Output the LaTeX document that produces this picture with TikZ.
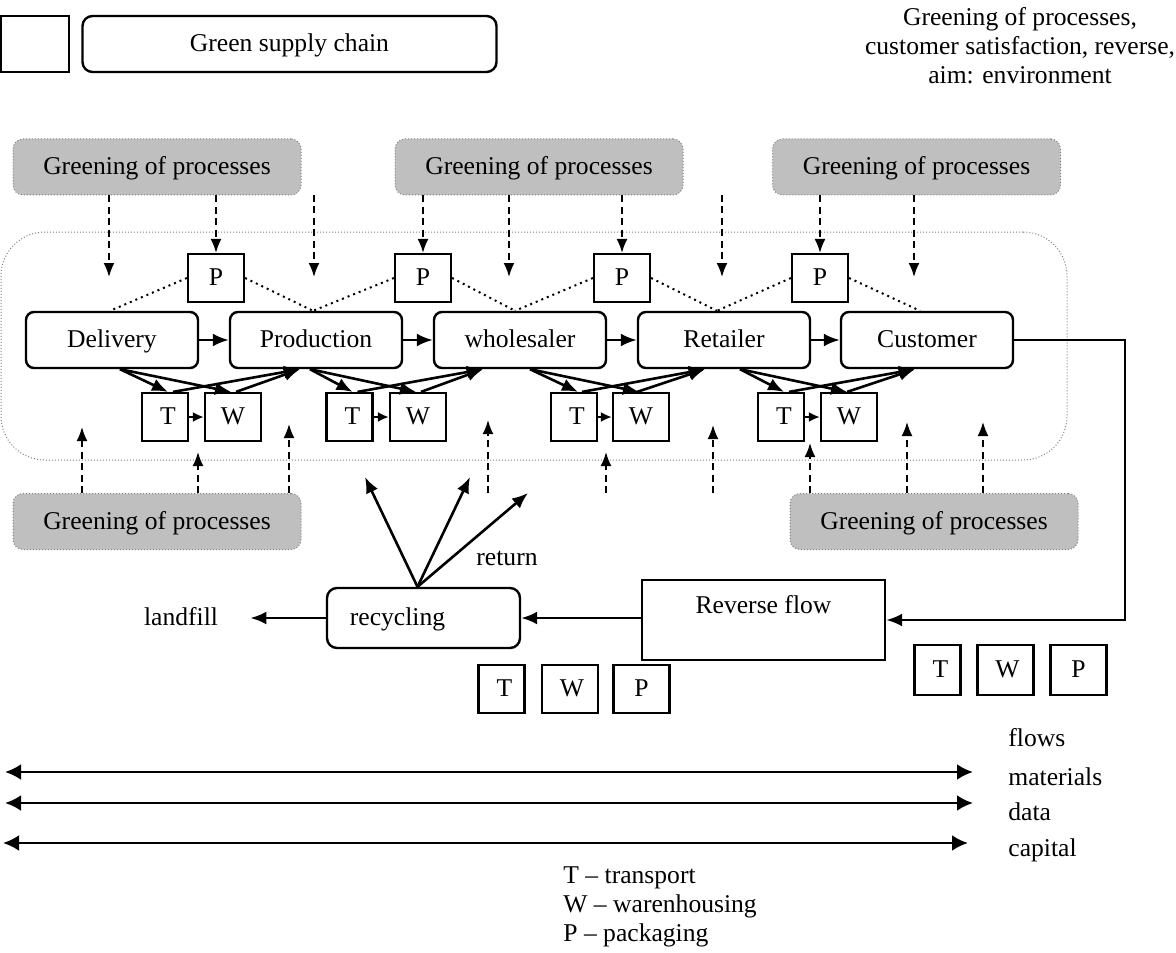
\documentclass[tikz,border=0pt]{standalone}
\usepackage{fontspec}
\setmainfont{Liberation Serif}
\usetikzlibrary{arrows.meta}
\begin{document}
\begin{tikzpicture}[x=0.5pt,y=-0.5pt,
  every node/.style={font=\fontsize{12.8}{14.5}\selectfont, inner sep=0pt},
  txt/.style={text height=8.8pt, text depth=1.2pt},
  box/.style={draw, line width=1.2pt, minimum height=28pt, txt},
  rbox/.style={box, rounded corners=4pt, minimum width=86pt},
  gbox/.style={draw=gray, densely dotted, line width=0.5pt, fill=gray!50, rounded corners=5pt, minimum width=144pt, minimum height=28pt, txt},
  sbox/.style={draw, line width=1.1pt, minimum height=24pt, txt},
  tbox/.style={sbox, minimum width=23pt},
  wbox/.style={sbox, minimum width=28pt},
  arr/.style={line width=1.3pt, -{Latex[length=8pt,width=6.5pt]}},
  sarr/.style={line width=1.1pt, -{Latex[length=5.5pt,width=5pt]}},
  darr/.style={line width=0.9pt, dash pattern=on 3.5pt off 2.2pt, -{Latex[length=7pt,width=5.5pt]}},
  barr/.style={line width=1.4pt, {Latex[length=8pt,width=8pt]}-{Latex[length=8pt,width=8pt]}},
  pdot/.style={line width=1pt, dotted},
  frame/.style={draw=gray, densely dotted, line width=0.5pt, rounded corners=22pt}
]
\useasboundingbox (0,0) rectangle (1176,952);

% header
\node[box, minimum width=34pt, minimum height=28pt] (sq) at (35,44) {};
\node[box, rounded corners=5pt, minimum width=207pt, minimum height=28pt] (gsc) at (289.5,44) {Green supply chain};
\node[align=center] (aim) at (1020,46) {Greening of processes,\\customer satisfaction, reverse,\\aim: environment};

% frame
\node[frame, minimum width=533pt, minimum height=114pt] (frm) at (534,346) {};

% greening boxes
\node[gbox] (g1) at (157,167) {Greening of processes};
\node[gbox] (g2) at (539,167) {Greening of processes};
\node[gbox] (g3) at (916.5,167) {Greening of processes};
\node[gbox] (g4) at (157,521.5) {Greening of processes};
\node[gbox] (g5) at (934,521.5) {Greening of processes};

% main chain
\node[rbox] (del) at (112,340) {Delivery};
\node[rbox] (pro) at (316,340) {Production};
\node[rbox] (who) at (520,340) {wholesaler};
\node[rbox] (ret) at (724,340) {Retailer};
\node[rbox] (cus) at (927,340) {Customer};
\draw[arr] (del) -- (pro);
\draw[arr] (pro) -- (who);
\draw[arr] (who) -- (ret);
\draw[arr] (ret) -- (cus);

% P boxes
\node[wbox] (p1) at (216,278) {P};
\node[wbox] (p2) at (423,278) {P};
\node[wbox] (p3) at (622,278) {P};
\node[wbox] (p4) at (820,278) {P};
\draw[pdot] (p1.west) -- ([xshift=-1pt]del.north);
\draw[pdot] (p1.east) -- ([xshift=-1.5pt]pro.north);
\draw[pdot] (p2.west) -- ([xshift=-1.5pt]pro.north);
\draw[pdot] (p2.east) -- ([xshift=-2.5pt]who.north);
\draw[pdot] (p3.west) -- ([xshift=-2.5pt]who.north);
\draw[pdot] (p3.east) -- ([xshift=-3.5pt]ret.north);
\draw[pdot] (p4.west) -- ([xshift=-3.5pt]ret.north);
\draw[pdot] (p4.east) -- ([xshift=-3.5pt]cus.north);

% T / W boxes
\node[tbox] (t1) at (165,417) {\hspace*{3pt}T};
\node[wbox] (w1) at (233,417) {W};
\node[tbox] (t2) at (349.5,417) {\hspace*{3pt}T};
\node[wbox] (w2) at (418,417) {W};
\node[tbox] (t3) at (574,417) {\hspace*{3pt}T};
\node[wbox] (w3) at (641,417) {W};
\node[tbox] (t4) at (781,417) {\hspace*{3pt}T};
\node[wbox] (w4) at (849,417) {W};
\draw[sarr] (t1) -- (w1);
\draw[sarr] (t2) -- (w2);
\draw[sarr] (t3) -- (w3);
\draw[sarr] (t4) -- (w4);

% crossing arrows
\draw[arr] ([xshift=4pt]del.south) -- ([xshift=1.5pt]t1.north);
\draw[arr] ([xshift=4pt]del.south) -- ([xshift=-1pt]w1.north);
\draw[arr] ([xshift=4pt]t1.north) -- ([xshift=-8pt]pro.south);
\draw[arr] ([xshift=1.5pt]w1.north) -- ([xshift=-8pt]pro.south);

\draw[arr] ([xshift=-3pt]pro.south) -- ([xshift=1.5pt]t2.north);
\draw[arr] ([xshift=-3pt]pro.south) -- ([xshift=-1pt]w2.north);
\draw[arr] ([xshift=4pt]t2.north) -- ([xshift=-18.5pt]who.south);
\draw[arr] ([xshift=1.5pt]w2.north) -- ([xshift=-18.5pt]who.south);

\draw[arr] ([xshift=5pt]who.south) -- ([xshift=2pt]t3.north);
\draw[arr] ([xshift=5pt]who.south) -- ([xshift=-1pt]w3.north);
\draw[arr] ([xshift=4pt]t3.north) -- ([xshift=-9.5pt]ret.south);
\draw[arr] ([xshift=-2pt]w3.north) -- ([xshift=-9.5pt]ret.south);

\draw[arr] ([xshift=8pt]ret.south) -- ([xshift=1.5pt]t4.north);
\draw[arr] ([xshift=8pt]ret.south) -- ([xshift=-1pt]w4.north);
\draw[arr] ([xshift=4pt]t4.north) -- ([xshift=-6pt]cus.south);
\draw[arr] ([xshift=-1pt]w4.north) -- ([xshift=-6pt]cus.south);

% downward dashed arrows
\coordinate (dt1) at (109,277);
\coordinate (dt5) at (509,277);
\coordinate (dt9) at (914,277);
\coordinate (fa1) at (314,195);
\coordinate (fb1) at (314,277);
\coordinate (fa2) at (722,195);
\coordinate (fb2) at (722,277);
\draw[darr] (g1.south -| dt1) -- (dt1);
\draw[darr] (p1.north |- g1.south) -- (p1.north);
\draw[darr] (fa1) -- (fb1);
\draw[darr] (p2.north |- g2.south) -- (p2.north);
\draw[darr] (g2.south -| dt5) -- (dt5);
\draw[darr] (p3.north |- g2.south) -- (p3.north);
\draw[darr] (fa2) -- (fb2);
\draw[darr] (p4.north |- g3.south) -- (p4.north);
\draw[darr] (g3.south -| dt9) -- (dt9);

% upward dashed arrows
\coordinate (ut1) at (82,427);
\coordinate (ut2) at (198,452);
\coordinate (ut3) at (289,424);
\coordinate (ua1) at (488,493);
\coordinate (ub1) at (488,420);
\coordinate (ua2) at (606,493);
\coordinate (ub2) at (606,452);
\coordinate (ua3) at (713,493);
\coordinate (ub3) at (713,425);
\coordinate (ut7) at (810,443);
\coordinate (ut8) at (907,422);
\coordinate (ut9) at (983,422);
\draw[darr] (g4.north -| ut1) -- (ut1);
\draw[darr] (g4.north -| ut2) -- (ut2);
\draw[darr] (g4.north -| ut3) -- (ut3);
\draw[darr] (ua1) -- (ub1);
\draw[darr] (ua2) -- (ub2);
\draw[darr] (ua3) -- (ub3);
\draw[darr] (g5.north -| ut7) -- (ut7);
\draw[darr] (g5.north -| ut8) -- (ut8);
\draw[darr] (g5.north -| ut9) -- (ut9);

% reverse flow
\node[box, minimum width=121.5pt, minimum height=40pt, label={[txt, yshift=7pt]center:Reverse flow}] (rev) at (763.5,620) {};
\coordinate (rc) at (1125,340);
\draw[arr] (cus.east) -- (rc) |- (rev.east);
\node[box, rounded corners=5pt, minimum width=96.5pt, minimum height=30pt, label={[txt, xshift=-13pt]center:recycling}] (rec) at (423.5,618) {};
\draw[arr] (rev.west |- rec.east) -- (rec.east);
\node[txt] (lf) at (181,618) {landfill};
\draw[arr] (rec.west) -- ([xshift=16pt]lf.east);
\coordinate (r1) at (365,477);
\coordinate (r2) at (470,477);
\coordinate (r3) at (528,493);
\draw[arr] ([xshift=-3pt]rec.north) -- (r1);
\draw[arr] ([xshift=-3pt]rec.north) -- (r2);
\draw[arr] ([xshift=-3pt]rec.north) -- (r3);
\node[txt] (retn) at (507,558) {return};

% TWP boxes
\node[tbox] (bt) at (501.5,689) {\hspace*{3pt}T};
\node[wbox] (bw) at (570,689) {\hspace*{2pt}W};
\node[wbox] (bp) at (641.5,689) {P};
\node[tbox, minimum height=25pt] (rt) at (937.5,670) {\hspace*{3pt}T};
\node[wbox, minimum height=25pt] (rw) at (1005.5,670) {\hspace*{2pt}W};
\node[wbox, minimum height=25pt] (rp) at (1078.5,670) {P};

% flows
\node[anchor=west] (fl) at (1008,738) {flows};
\node[anchor=west] (mat) at (1008,777) {materials};
\node[anchor=west] (dat) at (1008,812) {data};
\node[anchor=west] (cap) at (1008,850) {capital};
\coordinate (mL) at (5,772);
\coordinate (mR) at (973,772);
\coordinate (dL) at (5,803);
\coordinate (dR) at (973,803);
\coordinate (cL) at (3,843);
\coordinate (cR) at (968,843);
\draw[barr] (mL) -- (mR);
\draw[barr] (dL) -- (dR);
\draw[barr] (cL) -- (cR);

% legend
\node[anchor=north west, align=left] (leg) at (563,866) {T -- transport\\W -- warenhousing\\P -- packaging};
\end{tikzpicture}
\end{document}
